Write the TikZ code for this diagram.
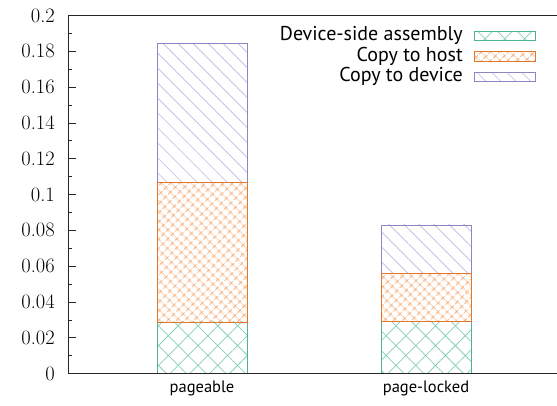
\documentclass[tikz,border=0pt]{standalone}
\usepackage{fontspec}
\newfontfamily\labelfont{PT Sans}
\usetikzlibrary{patterns.meta}

\definecolor{asmline}{HTML}{4DB48E}
\definecolor{asmhatch}{HTML}{86CFB6}
\definecolor{hostline}{HTML}{E0772A}
\definecolor{hosthatch}{HTML}{EE9F62}
\definecolor{devline}{HTML}{8C86C6}
\definecolor{devhatch}{HTML}{BDB8E0}

\tikzset{
  axisline/.style={line width=0.9pt, black!85},
  asm/.style={draw=asmline, line width=0.8pt,
    pattern={Hatch[angle=45, distance=14pt, line width=0.75pt]}, pattern color=asmhatch},
  host/.style={draw=hostline, line width=0.8pt,
    pattern={Hatch[angle=45, distance=6.4pt, line width=0.7pt]}, pattern color=hosthatch},
  dev/.style={draw=devline, line width=0.8pt,
    pattern={Lines[angle=-45, distance=10.6pt, line width=0.65pt]}, pattern color=devhatch},
  ticklabel/.style={anchor=east, font=\fontsize{20.5}{20.5}\selectfont, inner sep=0pt},
  catlabel/.style={anchor=base, font=\labelfont\fontsize{16.5}{16.5}\selectfont, inner sep=0pt},
  keylabel/.style={anchor=east, font=\labelfont\fontsize{20}{20}\selectfont, inner sep=0pt},
}

\begin{document}
\begin{tikzpicture}[x=1pt, y=-1pt]
  \useasboundingbox (0,0) rectangle (557,405);

  % plot area: value v sits at y = 373.5 - 1790 v
  \begin{scope}[shift={(0,373.5)}, y=1790pt]
    % stacked bars (middle segment last, so its edges lie on top)
    \path[asm]  (157,0)      rectangle (247,0.0288);
    \path[dev]  (157,0.1065) rectangle (247,0.1843);
    \path[host] (157,0.0288) rectangle (247,0.1065);

    \path[asm]  (381,0)      rectangle (471,0.0290);
    \path[dev]  (381,0.0560) rectangle (471,0.0830);
    \path[host] (381,0.0290) rectangle (471,0.0560);

    % axes frame
    \draw[axisline] (557,0.2) -- (68,0.2) -- (68,0) -- (557,0);

    % y ticks and labels
    \foreach \v in {0,0.02,0.04,0.06,0.08,0.1,0.12,0.14,0.16,0.18,0.2}
      \draw[axisline, line width=0.6pt] (68,\v) -- (76,\v);
    \foreach \v in {0.01,0.03,0.05,0.07,0.09,0.11,0.13,0.15,0.17,0.19}
      \draw[axisline, line width=0.6pt] (68,\v) -- (72,\v);
    \foreach \v/\t in {0/0,0.02/0.02,0.04/0.04,0.06/0.06,0.08/0.08,0.1/0.1,
                       0.12/0.12,0.14/0.14,0.16/0.16,0.18/0.18,0.2/0.2}
      \node[ticklabel] (y\t) at (55,\v) {\t};
  \end{scope}

  % category labels
  \node[catlabel] (pageable) at (202,392) {pageable};
  \node[catlabel] (locked) at (426,392) {page-locked};

  % key
  \node[keylabel] (kasm)  at (463,35.5) {Device-side assembly};
  \node[keylabel] (khost) at (463,56)   {Copy to host};
  \node[keylabel] (kdev)  at (463,76.5) {Copy to device};
  \path[asm]  (474,31)   rectangle (535,40.5);
  \path[host] (474,51.5) rectangle (535,61);
  \path[dev]  (474,72)   rectangle (535,81.5);
\end{tikzpicture}
\end{document}
